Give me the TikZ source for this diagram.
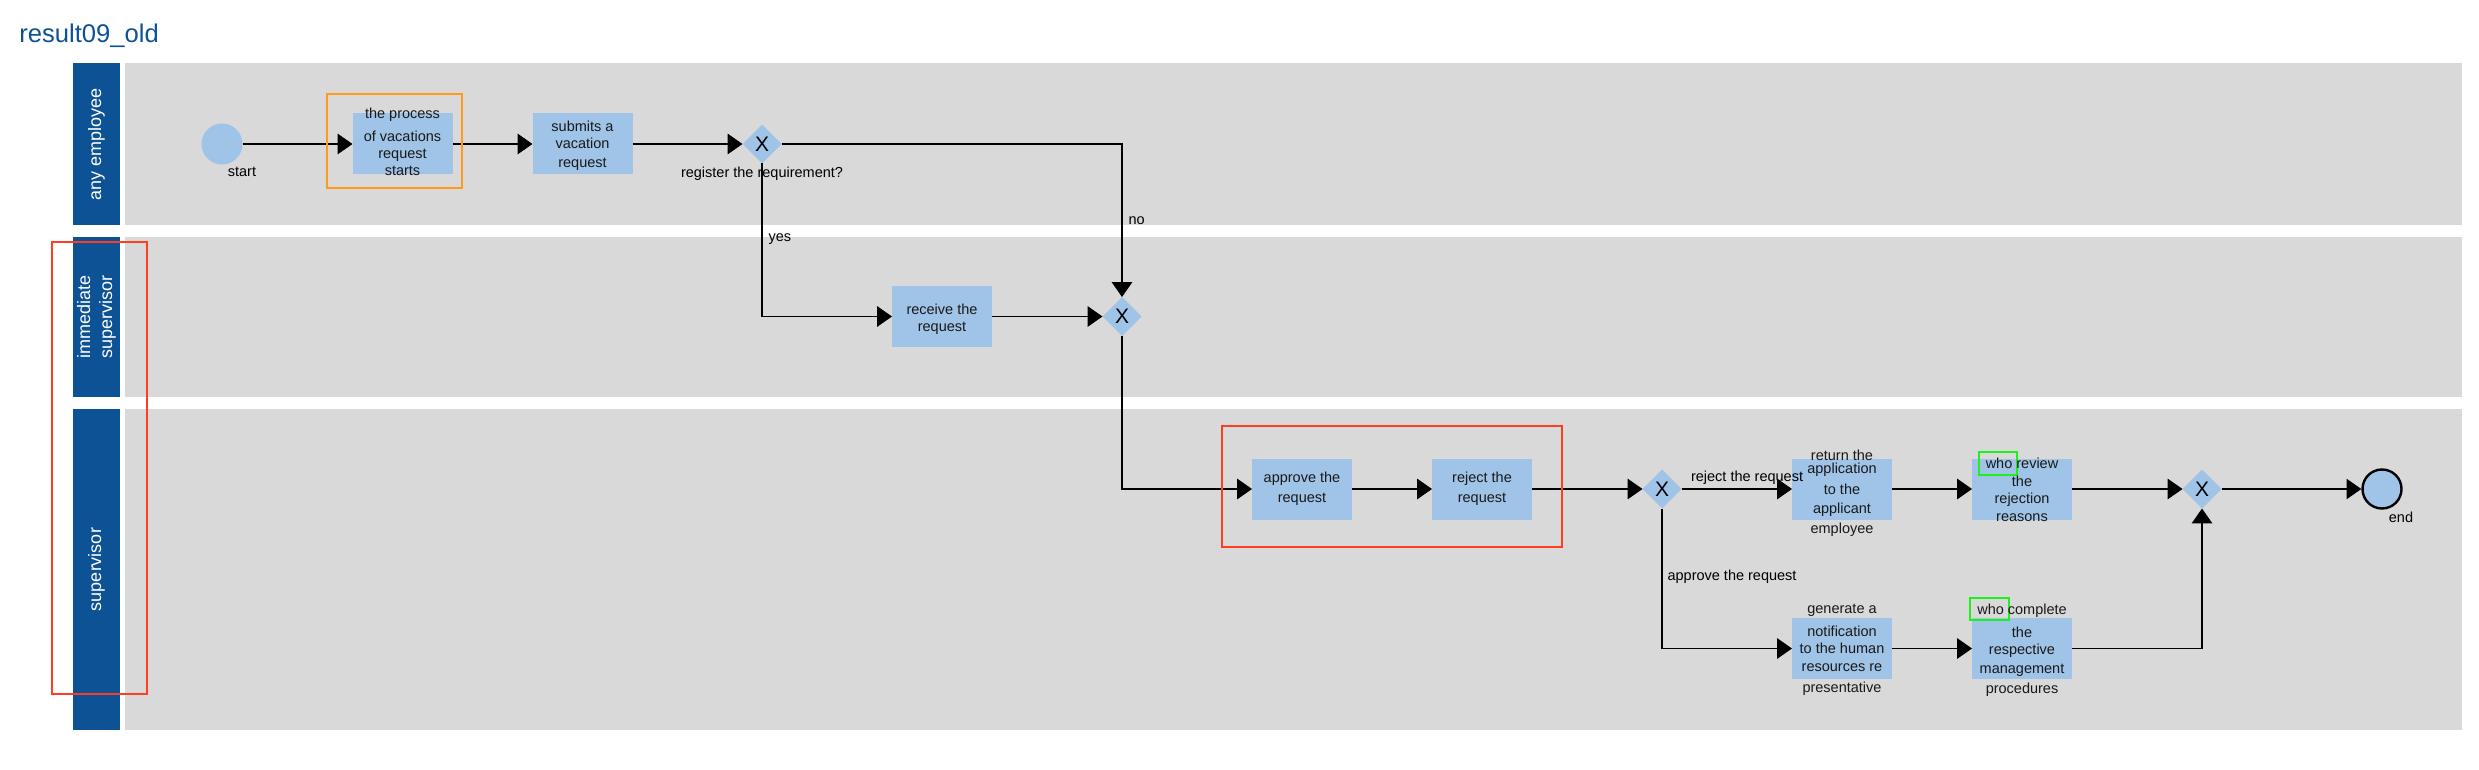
\documentclass[tikz,border=0pt]{standalone}
\usepackage{fontspec}
\setmainfont{Liberation Sans}
\usetikzlibrary{positioning,shapes.geometric,arrows.meta}

\definecolor{lanegray}{HTML}{D9D9D9}
\definecolor{laneblue}{HTML}{0D5294}
\definecolor{taskblue}{HTML}{9FC4E8}
\definecolor{markred}{HTML}{FF3D1F}
\definecolor{markorange}{HTML}{FF9A1A}
\definecolor{whogreen}{HTML}{1EF01E}

\newcommand{\whobox}[1]{\makebox[0pt][l]{\hspace*{-4pt}\smash{\color{whogreen}\setlength{\fboxrule}{1pt}\setlength{\fboxsep}{2.5pt}\fbox{\phantom{#1}}}}#1}

\tikzset{
  task/.style={fill=taskblue, minimum width=50pt, minimum height=30.5pt, inner sep=0pt, outer sep=0pt},
  tasktext/.style={align=center, font=\fontsize{7.25}{8.6}\selectfont, text=black!90},
  gate/.style={diamond, fill=taskblue, minimum width=19.5pt, minimum height=19.5pt, inner sep=0pt, outer sep=0pt, font=\fontsize{10.5}{10.5}\selectfont},
  event/.style={circle, fill=taskblue, minimum size=20.5pt, inner sep=0pt, outer sep=0pt},
  flow/.style={line width=0.55pt, -{Triangle[length=7.4pt,width=10.2pt]}},
  flowlabel/.style={font=\fontsize{7.25}{8.6}\selectfont, inner sep=1pt},
  lanetext/.style={text=white, rotate=90, align=center, font=\fontsize{9}{11}\selectfont},
}

\begin{document}
\begin{tikzpicture}
	\useasboundingbox (0pt,0pt) rectangle (1239.5pt,-385pt);
	\node[anchor=west, inner sep=0pt, text=laneblue, font=\fontsize{12.8}{15}\selectfont] (title) at (9.5pt,-18pt) {result09\_old};

	% lanes
	\fill[laneblue] (36.5pt,-31.5pt) rectangle (60pt,-112.5pt);
	\fill[lanegray] (62.5pt,-31.5pt) rectangle (1231pt,-112.5pt);
	\fill[laneblue] (36.5pt,-118.5pt) rectangle (60pt,-198.5pt);
	\fill[lanegray] (62.5pt,-118.5pt) rectangle (1231pt,-198.5pt);
	\fill[laneblue] (36.5pt,-204.5pt) rectangle (60pt,-365pt);
	\fill[lanegray] (62.5pt,-204.5pt) rectangle (1231pt,-365pt);
	\node[lanetext] (h1) at (48.25pt,-72pt) {any employee};
	\node[lanetext] (h2) at (48.25pt,-158.5pt) {immediate\\supervisor};
	\node[lanetext] (h3) at (48.25pt,-284.75pt) {supervisor};

	% any employee
	\node[event, label={[flowlabel, xshift=10pt]below:start}] (start) at (111pt,-72pt) {};
	\node[task, right=55pt of start] (t1) {};
	\node[task, right=40pt of t1] (t2) {};
	\node[gate, right=55pt of t2, label={[flowlabel, label distance=0.5pt]below:register the requirement?}] (g1) {X};

	% immediate supervisor
	\node[task] (t3) at (471pt,-158.25pt) {};
	\node[gate, right=55.25pt of t3] (g2) {X};

	% supervisor
	\node[task] (t4) at (651pt,-244.5pt) {};
	\node[task, right=40pt of t4] (t5) {};
	\node[gate, right=55.25pt of t5] (g3) {X};
	\node[task, right=55.25pt of g3] (t6) {};
	\node[task, right=40pt of t6] (t7) {};
	\node[gate, right=55.25pt of t7] (g4) {X};
	\node[event, draw, line width=1.2pt, outer sep=0.6pt, minimum size=19.5pt, right=69.9pt of g4, label={[flowlabel, xshift=9.5pt]below:end}] (finish) {};
	\node[task, below=49.25pt of t6] (t8) {};
	\node[task, right=40pt of t8] (t9) {};

	\node[tasktext, yshift=1pt] (t1l) at (t1) {the process\\[2.8pt]of vacations\\request\\starts};
	\node[tasktext, yshift=-1pt] (t2l) at (t2) {submits a\\vacation\\[1pt]request};
	\node[tasktext, yshift=-1.25pt] (t3l) at (t3) {receive the\\request};
	\node[tasktext] (t4l) at (t4) {approve the\\[1.4pt]request};
	\node[tasktext] (t5l) at (t5) {reject the\\[1.4pt]request};
	\node[tasktext, yshift=-2pt] (t6l) at (t6) {return the\\[-2.1pt]application\\[1.9pt]to the\\[0.9pt]applicant\\[1.4pt]employee};
	\node[tasktext, yshift=-0.5pt] (t7l) at (t7) {\whobox{who} review\\the\\rejection\\[0.4pt]reasons};
	\node[tasktext, yshift=-0.75pt] (t8l) at (t8) {generate a\\[2.9pt]notification\\to the human\\[0.4pt]resources re\\[1.9pt]presentative};
	\node[tasktext, yshift=-0.75pt] (t9l) at (t9) {\whobox{who} complete\\[2.9pt]the\\respective\\[0.9pt]management\\[1.4pt]procedures};

	% flows
	\draw[flow] (start) -- (t1);
	\draw[flow] (t1) -- (t2);
	\draw[flow] (t2) -- (g1);
	\draw[flow] (g1.east) -| (g2.north) node[flowlabel, pos=0.75, right=2pt] {no};
	\draw[flow] (g1.south) |- (t3.west) node[flowlabel, pos=0.2475, right=2pt] {yes};
	\draw[flow] (t3) -- (g2);
	\draw[flow] (g2.south) |- (t4.west);
	\draw[flow] (t4) -- (t5);
	\draw[flow] (t5) -- (g3);
	\draw[flow] (g3) -- (t6) node[flowlabel, pos=0.063, anchor=west, yshift=5.8pt] {reject the request};
	\draw[flow] (t6) -- (t7);
	\draw[flow] (t7) -- (g4);
	\draw[flow] (g4) -- (finish);
	\draw[flow] (g3.south) |- (t8.west) node[flowlabel, pos=0.245, right=1.5pt] {approve the request};
	\draw[flow] (t8) -- (t9);
	\draw[flow] (t9.east) -| (g4.south);

	% marks
	\draw[markred, line width=1pt] (26pt,-121pt) rectangle (73.5pt,-347pt);
	\draw[markorange, line width=1pt] (163.5pt,-47pt) rectangle (231pt,-94pt);
	\draw[markred, line width=1pt] (611pt,-213pt) rectangle (781pt,-273.5pt);
\end{tikzpicture}
\end{document}
